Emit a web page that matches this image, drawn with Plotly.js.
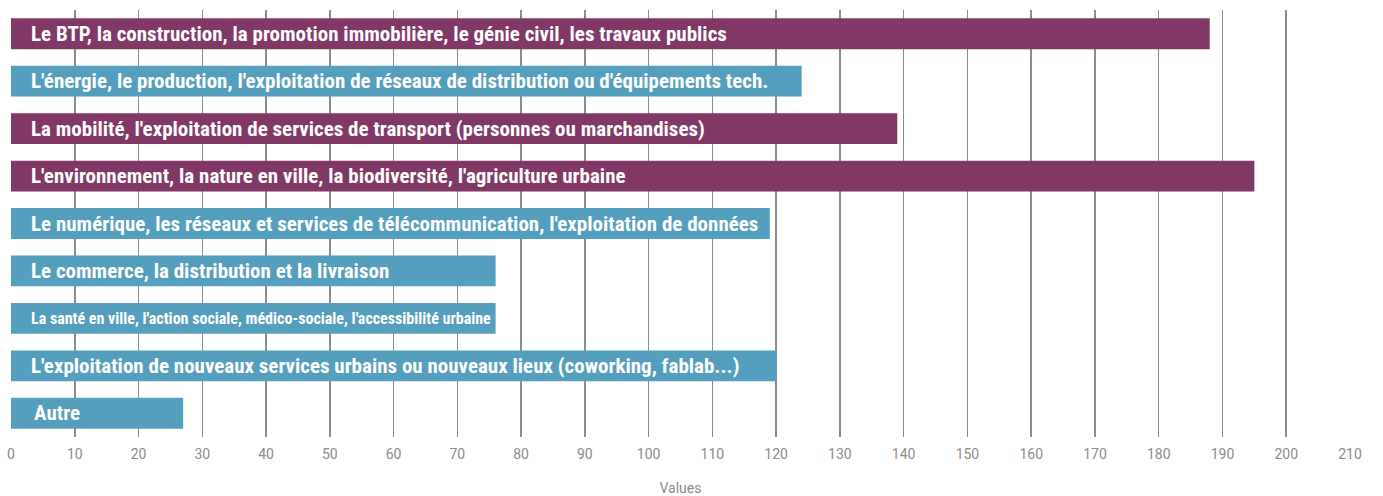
<!DOCTYPE html>
<html>
<head>
<meta charset="utf-8">
<script src="https://cdn.plot.ly/plotly-3.0.1.min.js"></script>
<style>html,body{margin:0;padding:0;background:#fff}#chart{width:1383px;height:496px}</style>
</head>
<body>
<div id="chart"></div>
<script>
const categories = [
  "Le BTP, la construction, la promotion immobilière, le génie civil, les travaux publics",
  "L'énergie, le production, l'exploitation de réseaux de distribution ou d'équipements tech.",
  "La mobilité, l'exploitation de services de transport (personnes ou marchandises)",
  "L'environnement, la nature en ville, la biodiversité, l'agriculture urbaine",
  "Le numérique, les réseaux et services de télécommunication, l'exploitation de données",
  "Le commerce, la distribution et la livraison",
  "La santé en ville, l'action sociale, médico-sociale, l'accessibilité urbaine",
  "L'exploitation de nouveaux services urbains ou nouveaux lieux (coworking, fablab...)",
  "Autre"
];
const values = [188, 124, 139, 195, 119, 76, 76, 120, 27];
const groups = ["A", "B", "A", "A", "B", "B", "B", "B", "B"];
const xTicks = [0,10,20,30,40,50,60,70,80,90,100,110,120,130,140,150,160,170,180,190,200,210];

const colorMap = {A: "#823866", B: "#549fbe"};
const labelFont = "'Liberation Sans Narrow', 'Roboto Condensed', 'DejaVu Sans Condensed', sans-serif";

const trace = {
  type: "bar",
  orientation: "h",
  y: categories,
  x: values,
  marker: {color: groups.map(g => colorMap[g])},
  hoverinfo: "x+y",
  showlegend: false
};

const annotations = categories.map((c, i) => ({
  x: 0, y: c, xref: "x", yref: "y",
  text: "<b>" + c + "</b>",
  showarrow: false,
  xanchor: "left", yanchor: "middle",
  xshift: c === "Autre" ? 21 : 18,
  font: {family: labelFont, size: c.startsWith("La santé") ? 16 : 21, color: "#ffffff"}
}));

const layout = {
  width: 1383, height: 496,
  margin: {l: 11, r: 33, t: 10, b: 59},
  paper_bgcolor: "#ffffff", plot_bgcolor: "#ffffff",
  bargap: 0.35,
  xaxis: {
    range: [0, 210],
    tickvals: xTicks,
    ticktext: xTicks.map(String),
    showgrid: true, gridcolor: "#8c8c8c", gridwidth: 1.5,
    zeroline: false, showline: false,
    ticks: "",
    ticklabelstandoff: 7,
    tickfont: {family: "Roboto, sans-serif", size: 14, color: "#8c8c8c"},
    title: {text: "Values", font: {family: "Roboto, sans-serif", size: 14, color: "#8c8c8c"}, standoff: 22}
  },
  yaxis: {
    autorange: "reversed",
    showticklabels: false, showgrid: false, zeroline: false, showline: false, ticks: ""
  },
  annotations: annotations
};

Plotly.newPlot("chart", [trace], layout, {displayModeBar: false, staticPlot: true});
</script>
</body>
</html>
